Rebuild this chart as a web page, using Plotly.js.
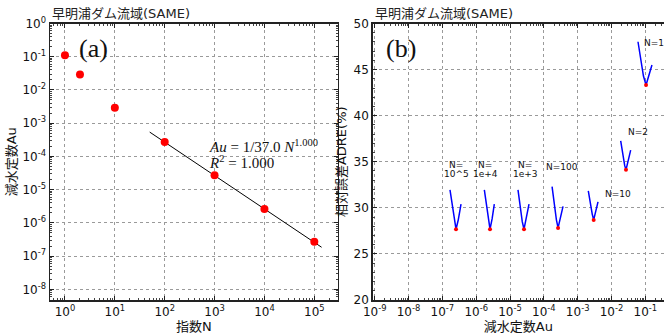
<!DOCTYPE html>
<html><head><meta charset="utf-8">
<script src="https://cdn.plot.ly/plotly-3.0.1.min.js"></script>
<style>html,body{margin:0;padding:0;background:#fff}</style>
</head><body><div id="chart" style="width:664px;height:334px"></div>
<script>
// ---- Panel (a): recession constant vs exponent N ----
const exponentN = [1, 2, 10, 100, 1000, 10000, 100000];
const auValues  = [0.11, 0.029, 0.0029, 0.00027, 2.7e-5, 2.6e-6, 2.7e-7];
const fitN  = [50, 140000];
const fitAu = [5.4e-4, 1.85e-7];

// ---- Panel (b): ADRE vs Au for each N ----
const au_N1e5   = [1.68e-7, 1.95e-7, 2.25e-7, 2.53e-7, 2.95e-7, 3.56e-7];
const adre_N1e5 = [31.95, 30.2, 28.5, 27.68, 28.7, 30.4];
const au_N1e4   = [1.74e-6, 2.0e-6, 2.3e-6, 2.56e-6, 2.95e-6, 3.43e-6];
const adre_N1e4 = [31.95, 30.3, 28.6, 27.68, 28.8, 30.4];
const au_N1e3   = [1.72e-5, 2.0e-5, 2.3e-5, 2.59e-5, 3.0e-5, 3.64e-5];
const adre_N1e3 = [31.95, 30.1, 28.5, 27.68, 28.7, 30.4];
const au_N100   = [1.75e-4, 2.0e-4, 2.35e-4, 2.63e-4, 3.05e-4, 3.69e-4];
const adre_N100 = [32.3, 30.4, 28.7, 27.82, 28.8, 30.15];
const au_N10    = [2.06e-3, 2.35e-3, 2.7e-3, 2.97e-3, 3.4e-3, 3.99e-3];
const adre_N10  = [31.84, 30.4, 29.3, 28.69, 29.5, 30.65];
const au_N2     = [1.87e-2, 2.15e-2, 2.45e-2, 2.68e-2, 3.1e-2, 3.69e-2];
const adre_N2   = [37.27, 35.8, 34.6, 34.12, 35.0, 36.26];
const au_N1     = [6.07e-2, 7.3e-2, 8.8e-2, 0.105, 0.128, 0.157];
const adre_N1   = [48.02, 46.3, 44.3, 43.32, 44.3, 45.49];
const minAu   = [2.53e-7, 2.56e-6, 2.59e-5, 2.63e-4, 2.97e-3, 2.68e-2, 0.105];
const minADRE = [27.68, 27.68, 27.68, 27.82, 28.69, 34.12, 43.32];

// ---- Tick labels ----
const xTickValsA = [1, 10, 100, 1000, 10000, 100000];
const xTickTextA = ['10<sup>0</sup>','10<sup>1</sup>','10<sup>2</sup>','10<sup>3</sup>','10<sup>4</sup>','10<sup>5</sup>'];
const yTickValsA = [1, 1e-1, 1e-2, 1e-3, 1e-4, 1e-5, 1e-6, 1e-7, 1e-8];
const yTickTextA = ['10<sup>0</sup>','10<sup>-1</sup>','10<sup>-2</sup>','10<sup>-3</sup>','10<sup>-4</sup>','10<sup>-5</sup>','10<sup>-6</sup>','10<sup>-7</sup>','10<sup>-8</sup>'];
const xTickValsB = [1e-9, 1e-8, 1e-7, 1e-6, 1e-5, 1e-4, 1e-3, 1e-2, 1e-1];
const xTickTextB = ['10<sup>-9</sup>','10<sup>-8</sup>','10<sup>-7</sup>','10<sup>-6</sup>','10<sup>-5</sup>','10<sup>-4</sup>','10<sup>-3</sup>','10<sup>-2</sup>','10<sup>-1</sup>'];
const yTickValsB = [20, 25, 30, 35, 40, 45, 50];

const titleText = '早明浦ダム流域(SAME)';
const FONT = 'DejaVu Sans, Noto Sans CJK JP, sans-serif';
const CJK = 'DejaVu Sans, Noto Sans CJK JP, sans-serif';
const SERIF = 'Liberation Serif, DejaVu Serif, serif';

const curves = [
  [au_N1e5, adre_N1e5], [au_N1e4, adre_N1e4], [au_N1e3, adre_N1e3],
  [au_N100, adre_N100], [au_N10, adre_N10], [au_N2, adre_N2], [au_N1, adre_N1]
];

const traces = [
  {x: fitN, y: fitAu, xaxis:'x', yaxis:'y', mode:'lines', line:{color:'#000', width:1}, hoverinfo:'skip'},
  {x: exponentN, y: auValues, xaxis:'x', yaxis:'y', mode:'markers', marker:{color:'#ff0000', size:8}}
];
curves.forEach(c => traces.push({x:c[0], y:c[1], xaxis:'x2', yaxis:'y2', mode:'lines', line:{color:'#0000ff', width:1.5}}));
traces.push({x:minAu, y:minADRE, xaxis:'x2', yaxis:'y2', mode:'markers', marker:{color:'#ff0000', size:4}});

const px = v => v/664, py = v => 1 - v/334;
const yDom = [py(300), py(23.5)];

function axisCommon() {
  return {
    showline:true, linecolor:'#222', linewidth:1.5, mirror:'allticks',
    ticks:'inside', ticklen:4, tickcolor:'#222', tickwidth:1,
    showgrid:true, gridcolor:'#9a9a9a', griddash:'dot', gridwidth:1,
    zeroline:false, tickfont:{family:FONT, size:12, color:'#111'}
  };
}
const minorLog = {ticks:'inside', ticklen:2, tickcolor:'#444', showgrid:false, dtick:'D1'};

const layout = {
  width:664, height:334, margin:{l:0,r:0,t:0,b:0},
  paper_bgcolor:'#fff', plot_bgcolor:'#fff', showlegend:false,
  xaxis: Object.assign(axisCommon(), {
    type:'log', domain:[px(50), px(337.5)], range:[-0.3, 5.465], anchor:'y',
    tickmode:'array', tickvals:xTickValsA, ticktext:xTickTextA,
    title:{text:'指数N', font:{family:CJK, size:13, color:'#111'}, standoff:0},
    minor:minorLog
  }),
  yaxis: Object.assign(axisCommon(), {
    type:'log', domain:yDom, range:[-8.32, 0], anchor:'x',
    tickmode:'array', tickvals:yTickValsA, ticktext:yTickTextA,
    title:{text:'減水定数Au', font:{family:CJK, size:13, color:'#111'}, standoff:3},
    minor:minorLog
  }),
  xaxis2: Object.assign(axisCommon(), {
    type:'log', domain:[px(372.7), 1], range:[-9.06, -0.448], anchor:'y2',
    tickmode:'array', tickvals:xTickValsB, ticktext:xTickTextB,
    title:{text:'減水定数Au', font:{family:CJK, size:13, color:'#111'}, standoff:0},
    minor:minorLog
  }),
  yaxis2: Object.assign(axisCommon(), {
    domain:yDom, range:[20, 50], anchor:'x2', mirror:false,
    tickmode:'array', tickvals:yTickValsB,
    title:{text:'相対誤差ADRE(%)', font:{family:CJK, size:13, color:'#111'}, standoff:4},
    minor:{ticks:'inside', ticklen:2, tickcolor:'#444', showgrid:false, dtick:1}
  }),
  annotations: [
    {xref:'paper', yref:'paper', x:px(50), y:py(13), xanchor:'left', yanchor:'middle', text:titleText, showarrow:false, font:{family:CJK, size:13, color:'#222'}},
    {xref:'paper', yref:'paper', x:px(372.7), y:py(13), xanchor:'left', yanchor:'middle', text:titleText, showarrow:false, font:{family:CJK, size:13, color:'#222'}},
    {xref:'paper', yref:'paper', x:px(93), y:py(48), xanchor:'center', yanchor:'middle', text:'(a)', showarrow:false, font:{family:SERIF, size:26, color:'#111'}},
    {xref:'paper', yref:'paper', x:px(401), y:py(48), xanchor:'center', yanchor:'middle', text:'(b)', showarrow:false, font:{family:SERIF, size:26, color:'#111'}},
    {xref:'paper', yref:'paper', x:px(207), y:py(146), xanchor:'left', yanchor:'middle', text:'<i>Au</i> = 1/37.0 <i>N</i><sup>1.000</sup>', showarrow:false, font:{family:SERIF, size:15, color:'#111'}},
    {xref:'paper', yref:'paper', x:px(207), y:py(162), xanchor:'left', yanchor:'middle', text:'<i>R</i><sup>2</sup> = 1.000', showarrow:false, font:{family:SERIF, size:15, color:'#111'}},
    {xref:'paper', yref:'paper', x:px(456), y:py(164.5), xanchor:'center', yanchor:'middle', text:'N=', showarrow:false, font:{family:FONT, size:9, color:'#111'}},
    {xref:'paper', yref:'paper', x:px(456), y:py(173.5), xanchor:'center', yanchor:'middle', text:'10^5', showarrow:false, font:{family:FONT, size:9, color:'#111'}},
    {xref:'paper', yref:'paper', x:px(485.3), y:py(164.5), xanchor:'center', yanchor:'middle', text:'N=', showarrow:false, font:{family:FONT, size:9, color:'#111'}},
    {xref:'paper', yref:'paper', x:px(485.3), y:py(173.5), xanchor:'center', yanchor:'middle', text:'1e+4', showarrow:false, font:{family:FONT, size:9, color:'#111'}},
    {xref:'paper', yref:'paper', x:px(525), y:py(164.5), xanchor:'center', yanchor:'middle', text:'N=', showarrow:false, font:{family:FONT, size:9, color:'#111'}},
    {xref:'paper', yref:'paper', x:px(525), y:py(173.5), xanchor:'center', yanchor:'middle', text:'1e+3', showarrow:false, font:{family:FONT, size:9, color:'#111'}},
    {xref:'paper', yref:'paper', x:px(562), y:py(167.3), xanchor:'center', yanchor:'middle', text:'N=100', showarrow:false, font:{family:FONT, size:9, color:'#111'}},
    {xref:'paper', yref:'paper', x:px(618), y:py(194.3), xanchor:'center', yanchor:'middle', text:'N=10', showarrow:false, font:{family:FONT, size:9, color:'#111'}},
    {xref:'paper', yref:'paper', x:px(638), y:py(132), xanchor:'center', yanchor:'middle', text:'N=2', showarrow:false, font:{family:FONT, size:9, color:'#111'}},
    {xref:'paper', yref:'paper', x:px(642), y:py(43), xanchor:'left', yanchor:'middle', text:'N=1', showarrow:false, font:{family:FONT, size:9, color:'#111'}}
  ]
};

Plotly.newPlot('chart', traces, layout, {staticPlot:true, displayModeBar:false});
</script></body></html>
